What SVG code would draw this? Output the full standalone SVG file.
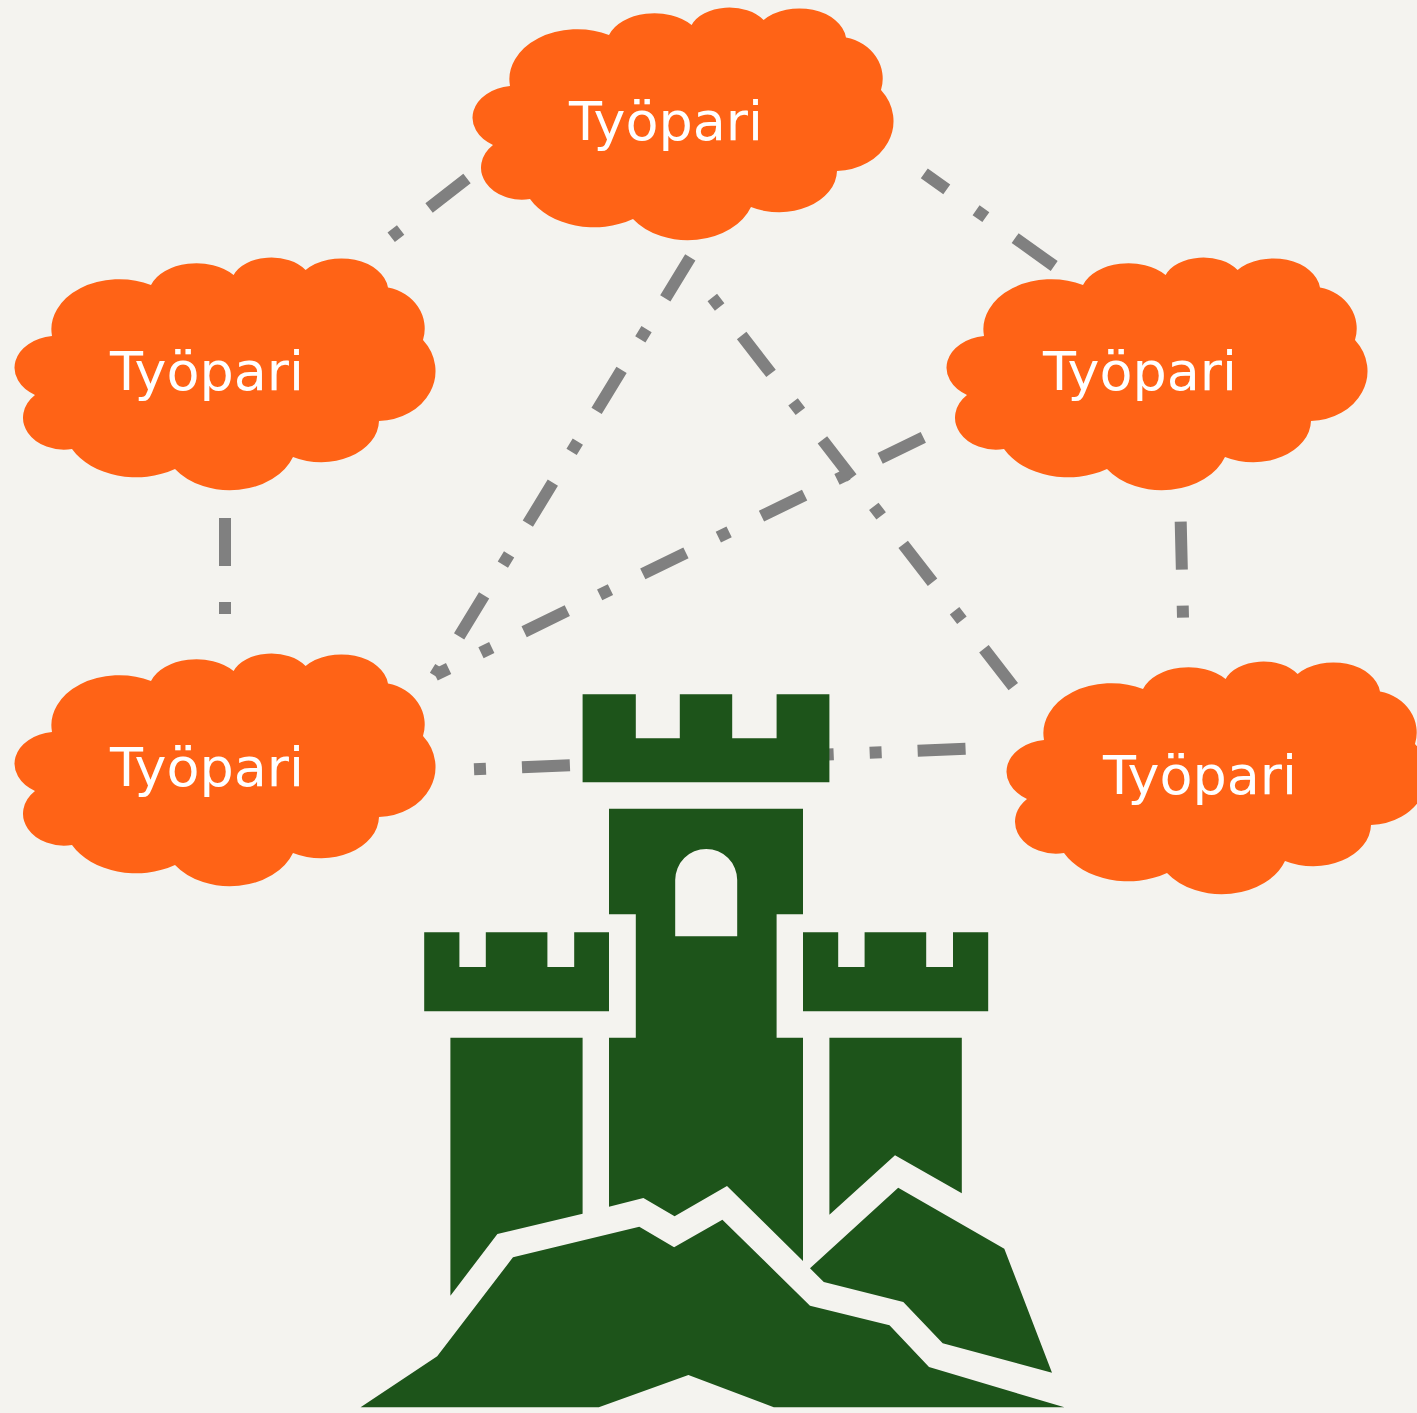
<svg xmlns="http://www.w3.org/2000/svg" width="1417" height="1413" viewBox="0 0 1417 1413">
<style>
.edge{fill:none;stroke:#808080;stroke-width:12;stroke-dasharray:48 36 12 36}
.dotfirst{stroke-dasharray:12 36 48 36}
.cloud{fill:#ff6316}
.label{fill:#fff;font-family:"DejaVu Sans",sans-serif;font-size:54px;text-anchor:middle}
.castle{fill:#1d541a}
</style>
<defs>
<path id="cloudShape" d="M510 86A68 50 0 0 1 609 35A48 32 0 0 1 691.6 25A40 26 0 0 1 763.6 20A47 33 0 0 1 846 37.5A46 42 0 0 1 881 90A58 50 0 0 1 837 171A58 42 0 0 1 751 207A67 50 0 0 1 633 219A72 52 0 0 1 530 199A41 32 0 0 1 493 145A43 32 0 0 1 510 86Z"/>
</defs>
<rect width="1417" height="1413" fill="#f4f3ef"/>
<g id="connectors">
<path class="edge" d="M467 178.5L391.2 237.3"/>
<path class="edge" d="M690.3 257.3L435 675.9"/>
<path class="edge" d="M923.3 437.3L435.1 675.1"/>
<path class="edge dotfirst" d="M712.3 297.5L1013.3 686.7"/>
<path class="edge" stroke-dashoffset="20.4" d="M924.3 173.3L1054.2 266"/>
<path class="edge" d="M225 518V614"/>
<path class="edge" d="M1180.7 521.7L1183 617.7"/>
<path class="edge dotfirst" d="M474 769.3L965.7 748.7"/>
</g>
<g id="node-top"><use href="#cloudShape" class="cloud"/><text class="label" x="666" y="139.5">Työpari</text></g>
<g id="node-left"><use href="#cloudShape" class="cloud" transform="translate(-458 250)"/><text class="label" x="207" y="389.5">Työpari</text></g>
<g id="node-right"><use href="#cloudShape" class="cloud" transform="translate(474 250)"/><text class="label" x="1140" y="389.5">Työpari</text></g>
<g id="node-bottom-left"><use href="#cloudShape" class="cloud" transform="translate(-458 646)"/><text class="label" x="207" y="785.5">Työpari</text></g>
<g id="node-bottom-right"><use href="#cloudShape" class="cloud" transform="translate(534 654)"/><text class="label" x="1200" y="793.5">Työpari</text></g>
<g id="castle" class="castle">
<path d="M582.6 694.3H635.8V738.3H679.8V694.3H732.2V738.3H776.6V694.3H829.4V782.3H582.6Z"/>
<path fill-rule="evenodd" d="M609 808.7H803V914.3H776.6V1037.7H803V1261L727 1186L674.6 1216.3L643.4 1198L609 1206.7V1037.7H635.8V914.3H609ZM675.2 880A31 31 0 0 1 737.2 880V936.3H675.2Z"/>
<path d="M424.2 932.3H459.4V967H485.8V932.3H547.4V967H574.2V932.3H609V1011.3H424.2Z"/>
<path d="M803 932.3H838.2V967H864.6V932.3H926.2V967H953V932.3H988.2V1011.3H803Z"/>
<path d="M450.4 1037.7H582.6V1213.7L497.4 1234L450.4 1295.7Z"/>
<path d="M829.4 1037.7H961.8V1193.3L895 1155.3L829.4 1214.7Z"/>
<path d="M810 1268.3L898.2 1187.7L1004.3 1248.7L1052 1372.7L942.7 1343.3L903.3 1302L823.8 1282Z"/>
<path d="M360.6 1407.3L437.2 1356.3L513 1257.3L639.3 1226.7L674.1 1247.3L722.4 1219.7L810 1305.7L889.5 1325.3L929 1367L1064.4 1407.3H773.8L688.4 1375L598.8 1407.3Z"/>
</g>
</svg>
